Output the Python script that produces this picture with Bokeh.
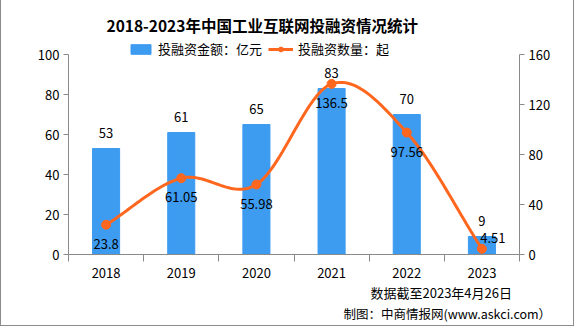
import numpy as np
from bokeh.plotting import figure
from bokeh.models import (ColumnDataSource, Range1d, LinearAxis, FixedTicker, Legend, LegendItem, Title)
from bokeh.core.properties import value
from bokeh.embed import file_html
from bokeh.resources import INLINE

years = ["2018", "2019", "2020", "2021", "2022", "2023"]
amount = [53, 61, 65, 83, 70, 9]            # 投融资金额：亿元 (bars, left axis)
count = [23.8, 61.05, 55.98, 136.5, 97.56, 4.51]  # 投融资数量：起 (line, right axis)
left_ticks = [0, 20, 40, 60, 80, 100]
right_ticks = [0, 40, 80, 120, 160]
title_text = "2018-2023年中国工业互联网投融资情况统计"
note1 = "数据截至2023年4月26日"
note2 = "制图：中商情报网(www.askci.com）"

BLUE = "#3D9BF0"
ORANGE = "#FF671F"
AXIS = "#8A8A8A"
FONT = "Noto Sans CJK SC"

xc = [i + 0.5 for i in range(len(years))]

W, H = 574, 326
TOP, BOTTOM = 38, 72
frame_h = H - TOP - BOTTOM
axis_h = 200  # pixel height of the 0..max axis span
ext = frame_h / axis_h

p = figure(width=W, height=H, output_backend="svg", toolbar_location=None,
           x_range=Range1d(0, len(years)), y_range=Range1d(0, left_ticks[-1] * ext),
           min_border_left=67, min_border_right=56, min_border_top=TOP, min_border_bottom=BOTTOM)
p.styles = {"border-left": "1px solid #8c8c8c", "border-right": "1px solid #8c8c8c",
            "border-bottom": "1px solid #8c8c8c"}
p.outline_line_color = None
p.grid.visible = False
p.extra_y_ranges = {"right": Range1d(0, right_ticks[-1] * ext)}

src = ColumnDataSource(dict(x=xc, amount=amount, count=count, year=years,
                            alab=[str(v) for v in amount], clab=[str(v) for v in count]))

bars = p.vbar(x="x", top="amount", width=0.36, color=BLUE, source=src)

# smooth curve (Catmull-Rom through the data points)
xs_p = np.array(xc, dtype=float)
ys_p = np.array(count, dtype=float)
px = np.concatenate([[2 * xs_p[0] - xs_p[1]], xs_p, [2 * xs_p[-1] - xs_p[-2]]])
py = np.concatenate([[2 * ys_p[0] - ys_p[1]], ys_p, [2 * ys_p[-1] - ys_p[-2]]])
cx, cy = [], []
for i in range(1, len(px) - 2):
    t = np.linspace(0, 1, 30)
    for arr, out in ((px, cx), (py, cy)):
        p0, p1, p2, p3 = arr[i - 1], arr[i], arr[i + 1], arr[i + 2]
        out.extend(0.5 * ((2 * p1) + (-p0 + p2) * t + (2 * p0 - 5 * p1 + 4 * p2 - p3) * t ** 2
                          + (-p0 + 3 * p1 - 3 * p2 + p3) * t ** 3))
line = p.line(cx, cy, line_color=ORANGE, line_width=3, y_range_name="right")
dots = p.scatter("x", "count", size=9, color=ORANGE, y_range_name="right", source=src)

# axes
p.yaxis.ticker = FixedTicker(ticks=left_ticks)
p.yaxis.bounds = (left_ticks[0], left_ticks[-1])
ra = LinearAxis(y_range_name="right", ticker=FixedTicker(ticks=right_ticks),
                bounds=(right_ticks[0], right_ticks[-1]))
p.add_layout(ra, "right")
p.xaxis.ticker = FixedTicker(ticks=xc, minor_ticks=list(range(len(years) + 1)))
p.xaxis.major_label_overrides = {x: y for x, y in zip(xc, years)}
p.xaxis.major_tick_out = 0
p.xaxis.major_tick_in = 0
p.xaxis.minor_tick_out = 7
p.xaxis.minor_tick_in = 0
for ax in (p.yaxis[0], ra):
    ax.major_tick_out = 5
    ax.major_tick_in = 0
for ax in (p.xaxis[0], p.yaxis[0], ra):
    ax.axis_line_color = AXIS
    ax.major_tick_line_color = AXIS
    ax.minor_tick_line_color = AXIS if ax is p.xaxis[0] else None
    ax.major_label_text_font = FONT
    ax.major_label_text_font_size = "13px"
    ax.major_label_text_color = "#000000"
    ax.major_label_standoff = 4
p.xaxis.major_label_standoff = 6

# value labels
p.text("x", "amount", text="alab", source=src, text_align="center", text_baseline="middle",
       y_offset=-16, text_font=value(FONT), text_font_size="13px", text_color="#000000")
src2 = ColumnDataSource(dict(x=xc, count=count, clab=[str(v) for v in count],
                             yo=[19 if i < len(count) - 1 else -11 for i in range(len(count))],
                             xo=[0 if i < len(count) - 1 else 11 for i in range(len(count))]))
p.text("x", "count", text="clab", source=src2, y_range_name="right", text_align="center",
       text_baseline="middle", y_offset="yo", x_offset="xo", text_font=value(FONT),
       text_font_size="13px", text_color="#000000")

# legend at top of frame
legend = Legend(items=[LegendItem(label="投融资金额：亿元", renderers=[bars]),
                       LegendItem(label="投融资数量：起", renderers=[line, dots])],
                orientation="horizontal", location=(60, frame_h - 20), padding=0, margin=0,
                spacing=6, glyph_width=25, glyph_height=12, label_standoff=5,
                border_line_color=None, background_fill_alpha=0,
                label_text_font=FONT, label_text_font_size="13px", label_text_color="#000000")
p.add_layout(legend, "center")

# title
p.title = Title(text=title_text, align="left", offset=38, text_font=FONT, text_color="#000000",
                text_font_style="bold", text_font_size="15.5px", standoff=6)

# notes below
p.add_layout(Title(text=note1, align="left", offset=302, text_font=FONT, text_color="#000000",
                   text_font_style="normal", text_font_size="13px", standoff=0), "below")
p.add_layout(Title(text=note2, align="left", offset=275, text_font=FONT, text_color="#000000",
                   text_font_style="normal", text_font_size="12.5px", standoff=0), "below")

open("out.html", "w").write(file_html(p, INLINE))
